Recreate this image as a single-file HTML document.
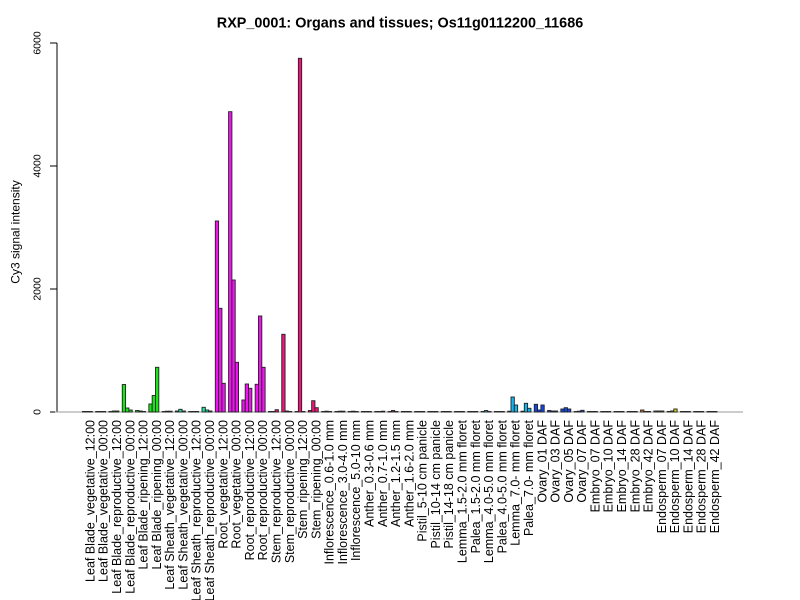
<!DOCTYPE html>
<html><head><meta charset="utf-8"><style>
html,body{margin:0;padding:0;background:#fff;}
svg{display:block;font-family:"Liberation Sans",Arial,sans-serif;}
</style></head><body>
<svg width="800" height="600" viewBox="0 0 800 600" xmlns="http://www.w3.org/2000/svg">
<rect width="800" height="600" fill="#fff"/>
<text x="400" y="27.5" text-anchor="middle" font-size="14.4" font-weight="bold">RXP_0001: Organs and tissues; Os11g0112200_11686</text>
<text transform="translate(19.5,232) rotate(-90)" text-anchor="middle" font-size="12">Cy3 signal intensity</text>
<g stroke="#000" stroke-width="1" fill="none">
<line x1="57" y1="43" x2="57" y2="412"/>
<line x1="50" y1="412" x2="57" y2="412"/>
<line x1="50" y1="289" x2="57" y2="289"/>
<line x1="50" y1="166" x2="57" y2="166"/>
<line x1="50" y1="43" x2="57" y2="43"/>
</g>
<g font-size="10.5" text-anchor="middle">
<text transform="translate(40.7,412) rotate(-90)">0</text>
<text transform="translate(40.7,289) rotate(-90)">2000</text>
<text transform="translate(40.7,166) rotate(-90)">4000</text>
<text transform="translate(40.7,43) rotate(-90)">6000</text>
</g>
<line x1="55" y1="412" x2="743" y2="412" stroke="#999" stroke-width="1"/>
<g stroke="#222" stroke-width="0.9">
<g fill="#19e619">
<g transform="translate(82.40,0)"><rect x="0" y="411.5" width="3.32" height="0.5"/><rect x="3.32" y="411.5" width="3.32" height="0.5"/><rect x="6.64" y="411.5" width="3.32" height="0.5"/></g>
<g transform="translate(95.69,0)"><rect x="0" y="411.5" width="3.32" height="0.5"/><rect x="3.32" y="411.5" width="3.32" height="0.5"/><rect x="6.64" y="411.5" width="3.32" height="0.5"/></g>
<g transform="translate(108.98,0)"><rect x="0" y="411.5" width="3.32" height="0.5"/><rect x="3.32" y="411" width="3.32" height="1"/><rect x="6.64" y="411" width="3.32" height="1"/></g>
<g transform="translate(122.27,0)"><rect x="0" y="384.5" width="3.32" height="27.5"/><rect x="3.32" y="408" width="3.32" height="4"/><rect x="6.64" y="410" width="3.32" height="2"/></g>
<g transform="translate(135.56,0)"><rect x="0" y="410.5" width="3.32" height="1.5"/><rect x="3.32" y="411" width="3.32" height="1"/><rect x="6.64" y="411.5" width="3.32" height="0.5"/></g>
<g transform="translate(148.85,0)"><rect x="0" y="404" width="3.32" height="8"/><rect x="3.32" y="395.5" width="3.32" height="16.5"/><rect x="6.64" y="367.3" width="3.32" height="44.7"/></g>
</g>
<g fill="#19e6a8">
<g transform="translate(162.14,0)"><rect x="0" y="411.5" width="3.32" height="0.5"/><rect x="3.32" y="411.2" width="3.32" height="0.8"/><rect x="6.64" y="411.2" width="3.32" height="0.8"/></g>
<g transform="translate(175.43,0)"><rect x="0" y="411" width="3.32" height="1"/><rect x="3.32" y="409.3" width="3.32" height="2.7"/><rect x="6.64" y="411" width="3.32" height="1"/></g>
<g transform="translate(188.72,0)"><rect x="0" y="411.5" width="3.32" height="0.5"/><rect x="3.32" y="411.5" width="3.32" height="0.5"/><rect x="6.64" y="411.5" width="3.32" height="0.5"/></g>
<g transform="translate(202.01,0)"><rect x="0" y="407.3" width="3.32" height="4.7"/><rect x="3.32" y="410" width="3.32" height="2"/><rect x="6.64" y="411" width="3.32" height="1"/></g>
</g>
<g fill="#f014f0">
<g transform="translate(215.30,0)"><rect x="0" y="221" width="3.32" height="191"/><rect x="3.32" y="308.3" width="3.32" height="103.7"/><rect x="6.64" y="383.3" width="3.32" height="28.7"/></g>
<g transform="translate(228.59,0)"><rect x="0" y="111.7" width="3.32" height="300.3"/><rect x="3.32" y="280" width="3.32" height="132"/><rect x="6.64" y="362.3" width="3.32" height="49.7"/></g>
<g transform="translate(241.88,0)"><rect x="0" y="400" width="3.32" height="12"/><rect x="3.32" y="384" width="3.32" height="28"/><rect x="6.64" y="388.3" width="3.32" height="23.7"/></g>
<g transform="translate(255.17,0)"><rect x="0" y="384.3" width="3.32" height="27.7"/><rect x="3.32" y="316" width="3.32" height="96"/><rect x="6.64" y="367.3" width="3.32" height="44.7"/></g>
</g>
<g fill="#f0147a">
<g transform="translate(268.46,0)"><rect x="0" y="411.5" width="3.32" height="0.5"/><rect x="3.32" y="411.5" width="3.32" height="0.5"/><rect x="6.64" y="409.7" width="3.32" height="2.3"/></g>
<g transform="translate(281.75,0)"><rect x="0" y="334.3" width="3.32" height="77.7"/><rect x="3.32" y="411" width="3.32" height="1"/><rect x="6.64" y="411.5" width="3.32" height="0.5"/></g>
<g transform="translate(295.04,0)"><rect x="0" y="411.5" width="3.32" height="0.5"/><rect x="3.32" y="58.3" width="3.32" height="353.7"/><rect x="6.64" y="411.5" width="3.32" height="0.5"/></g>
<g transform="translate(308.33,0)"><rect x="0" y="410.5" width="3.32" height="1.5"/><rect x="3.32" y="400.7" width="3.32" height="11.3"/><rect x="6.64" y="407.7" width="3.32" height="4.3"/></g>
</g>
<g fill="#3c6e6e">
<g transform="translate(321.62,0)"><rect x="0" y="411.5" width="3.32" height="0.5"/><rect x="3.32" y="411.2" width="3.32" height="0.8"/><rect x="6.64" y="411.5" width="3.32" height="0.5"/></g>
<g transform="translate(334.91,0)"><rect x="0" y="411.5" width="3.32" height="0.5"/><rect x="3.32" y="411.2" width="3.32" height="0.8"/><rect x="6.64" y="411.2" width="3.32" height="0.8"/></g>
<g transform="translate(348.20,0)"><rect x="0" y="411.5" width="3.32" height="0.5"/><rect x="3.32" y="411.2" width="3.32" height="0.8"/><rect x="6.64" y="411.5" width="3.32" height="0.5"/></g>
</g>
<g fill="#a03030">
<g transform="translate(361.49,0)"><rect x="0" y="411.5" width="3.32" height="0.5"/><rect x="3.32" y="411.5" width="3.32" height="0.5"/><rect x="6.64" y="411.5" width="3.32" height="0.5"/></g>
<g transform="translate(374.78,0)"><rect x="0" y="411.5" width="3.32" height="0.5"/><rect x="3.32" y="411.5" width="3.32" height="0.5"/><rect x="6.64" y="411.2" width="3.32" height="0.8"/></g>
<g transform="translate(388.07,0)"><rect x="0" y="411.5" width="3.32" height="0.5"/><rect x="3.32" y="410.5" width="3.32" height="1.5"/><rect x="6.64" y="411.5" width="3.32" height="0.5"/></g>
<g transform="translate(401.36,0)"><rect x="0" y="411.5" width="3.32" height="0.5"/><rect x="3.32" y="411.5" width="3.32" height="0.5"/><rect x="6.64" y="411.5" width="3.32" height="0.5"/></g>
</g>
<g fill="#606060">
<g transform="translate(414.65,0)"><rect x="0" y="411.5" width="3.32" height="0.5"/><rect x="3.32" y="411.5" width="3.32" height="0.5"/><rect x="6.64" y="411.5" width="3.32" height="0.5"/></g>
<g transform="translate(427.94,0)"><rect x="0" y="411.5" width="3.32" height="0.5"/><rect x="3.32" y="411.5" width="3.32" height="0.5"/><rect x="6.64" y="411.5" width="3.32" height="0.5"/></g>
<g transform="translate(441.23,0)"><rect x="0" y="411.5" width="3.32" height="0.5"/><rect x="3.32" y="411.5" width="3.32" height="0.5"/><rect x="6.64" y="411.5" width="3.32" height="0.5"/></g>
</g>
<g fill="#14b4f0">
<g transform="translate(454.52,0)"><rect x="0" y="411.5" width="3.32" height="0.5"/><rect x="3.32" y="411.5" width="3.32" height="0.5"/><rect x="6.64" y="411.5" width="3.32" height="0.5"/></g>
<g transform="translate(467.81,0)"><rect x="0" y="411.5" width="3.32" height="0.5"/><rect x="3.32" y="411.5" width="3.32" height="0.5"/><rect x="6.64" y="411.5" width="3.32" height="0.5"/></g>
<g transform="translate(481.10,0)"><rect x="0" y="411.5" width="3.32" height="0.5"/><rect x="3.32" y="410.5" width="3.32" height="1.5"/><rect x="6.64" y="411.5" width="3.32" height="0.5"/></g>
<g transform="translate(494.39,0)"><rect x="0" y="411.5" width="3.32" height="0.5"/><rect x="3.32" y="411.5" width="3.32" height="0.5"/><rect x="6.64" y="411.5" width="3.32" height="0.5"/></g>
<g transform="translate(507.68,0)"><rect x="0" y="411.2" width="3.32" height="0.8"/><rect x="3.32" y="397" width="3.32" height="15"/><rect x="6.64" y="405" width="3.32" height="7"/></g>
<g transform="translate(520.97,0)"><rect x="0" y="411.2" width="3.32" height="0.8"/><rect x="3.32" y="403.3" width="3.32" height="8.7"/><rect x="6.64" y="408.3" width="3.32" height="3.7"/></g>
</g>
<g fill="#1446e6">
<g transform="translate(534.26,0)"><rect x="0" y="404.3" width="3.32" height="7.7"/><rect x="3.32" y="410" width="3.32" height="2"/><rect x="6.64" y="405" width="3.32" height="7"/></g>
<g transform="translate(547.55,0)"><rect x="0" y="410.5" width="3.32" height="1.5"/><rect x="3.32" y="411" width="3.32" height="1"/><rect x="6.64" y="411" width="3.32" height="1"/></g>
<g transform="translate(560.84,0)"><rect x="0" y="409" width="3.32" height="3"/><rect x="3.32" y="407.7" width="3.32" height="4.3"/><rect x="6.64" y="409" width="3.32" height="3"/></g>
<g transform="translate(574.13,0)"><rect x="0" y="411.5" width="3.32" height="0.5"/><rect x="3.32" y="411.2" width="3.32" height="0.8"/><rect x="6.64" y="410.3" width="3.32" height="1.7"/></g>
</g>
<g fill="#d2782a">
<g transform="translate(587.42,0)"><rect x="0" y="411.5" width="3.32" height="0.5"/><rect x="3.32" y="411.5" width="3.32" height="0.5"/><rect x="6.64" y="411.5" width="3.32" height="0.5"/></g>
<g transform="translate(600.71,0)"><rect x="0" y="411.5" width="3.32" height="0.5"/><rect x="3.32" y="411.5" width="3.32" height="0.5"/><rect x="6.64" y="411.5" width="3.32" height="0.5"/></g>
<g transform="translate(614.00,0)"><rect x="0" y="411.5" width="3.32" height="0.5"/><rect x="3.32" y="411.5" width="3.32" height="0.5"/><rect x="6.64" y="411.5" width="3.32" height="0.5"/></g>
<g transform="translate(627.29,0)"><rect x="0" y="411.5" width="3.32" height="0.5"/><rect x="3.32" y="411.5" width="3.32" height="0.5"/><rect x="6.64" y="411.5" width="3.32" height="0.5"/></g>
<g transform="translate(640.58,0)"><rect x="0" y="410" width="3.32" height="2"/><rect x="3.32" y="411.5" width="3.32" height="0.5"/><rect x="6.64" y="411.5" width="3.32" height="0.5"/></g>
</g>
<g fill="#d2d214">
<g transform="translate(653.87,0)"><rect x="0" y="411" width="3.32" height="1"/><rect x="3.32" y="411" width="3.32" height="1"/><rect x="6.64" y="411" width="3.32" height="1"/></g>
<g transform="translate(667.16,0)"><rect x="0" y="411.5" width="3.32" height="0.5"/><rect x="3.32" y="411" width="3.32" height="1"/><rect x="6.64" y="409" width="3.32" height="3"/></g>
<g transform="translate(680.45,0)"><rect x="0" y="411.5" width="3.32" height="0.5"/><rect x="3.32" y="411.5" width="3.32" height="0.5"/><rect x="6.64" y="411.5" width="3.32" height="0.5"/></g>
<g transform="translate(693.74,0)"><rect x="0" y="411.5" width="3.32" height="0.5"/><rect x="3.32" y="411.5" width="3.32" height="0.5"/><rect x="6.64" y="411.5" width="3.32" height="0.5"/></g>
<g transform="translate(707.03,0)"><rect x="0" y="411.5" width="3.32" height="0.5"/><rect x="3.32" y="411.5" width="3.32" height="0.5"/><rect x="6.64" y="411.5" width="3.32" height="0.5"/></g>
</g>
</g>
<g font-size="12.5" text-anchor="end">
<text transform="translate(94.4,420) rotate(-90)">Leaf Blade_vegetative_12:00</text>
<text transform="translate(107.69,420) rotate(-90)">Leaf Blade_vegetative_00:00</text>
<text transform="translate(120.98,420) rotate(-90)">Leaf Blade_reproductive_12:00</text>
<text transform="translate(134.27,420) rotate(-90)">Leaf Blade_reproductive_00:00</text>
<text transform="translate(147.56,420) rotate(-90)">Leaf Blade_ripening_12:00</text>
<text transform="translate(160.85,420) rotate(-90)">Leaf Blade_ripening_00:00</text>
<text transform="translate(174.14,420) rotate(-90)">Leaf Sheath_vegetative_12:00</text>
<text transform="translate(187.43,420) rotate(-90)">Leaf Sheath_vegetative_00:00</text>
<text transform="translate(200.72,420) rotate(-90)">Leaf Sheath_reproductive_12:00</text>
<text transform="translate(214.01,420) rotate(-90)">Leaf Sheath_reproductive_00:00</text>
<text transform="translate(227.30,420) rotate(-90)">Root_vegetative_12:00</text>
<text transform="translate(240.59,420) rotate(-90)">Root_vegetative_00:00</text>
<text transform="translate(253.88,420) rotate(-90)">Root_reproductive_12:00</text>
<text transform="translate(267.17,420) rotate(-90)">Root_reproductive_00:00</text>
<text transform="translate(280.46,420) rotate(-90)">Stem_reproductive_12:00</text>
<text transform="translate(293.75,420) rotate(-90)">Stem_reproductive_00:00</text>
<text transform="translate(307.04,420) rotate(-90)">Stem_ripening_12:00</text>
<text transform="translate(320.33,420) rotate(-90)">Stem_ripening_00:00</text>
<text transform="translate(333.62,420) rotate(-90)">Inflorescence_0.6-1.0 mm</text>
<text transform="translate(346.91,420) rotate(-90)">Inflorescence_3.0-4.0 mm</text>
<text transform="translate(360.20,420) rotate(-90)">Inflorescence_5.0-10 mm</text>
<text transform="translate(373.49,420) rotate(-90)">Anther_0.3-0.6 mm</text>
<text transform="translate(386.78,420) rotate(-90)">Anther_0.7-1.0 mm</text>
<text transform="translate(400.07,420) rotate(-90)">Anther_1.2-1.5 mm</text>
<text transform="translate(413.36,420) rotate(-90)">Anther_1.6-2.0 mm</text>
<text transform="translate(426.65,420) rotate(-90)">Pistil_5-10 cm panicle</text>
<text transform="translate(439.94,420) rotate(-90)">Pistil_10-14 cm panicle</text>
<text transform="translate(453.23,420) rotate(-90)">Pistil_14-18 cm panicle</text>
<text transform="translate(466.52,420) rotate(-90)">Lemma_1.5-2.0 mm floret</text>
<text transform="translate(479.81,420) rotate(-90)">Palea_1.5-2.0 mm floret</text>
<text transform="translate(493.10,420) rotate(-90)">Lemma_4.0-5.0 mm floret</text>
<text transform="translate(506.39,420) rotate(-90)">Palea_4.0-5.0 mm floret</text>
<text transform="translate(519.68,420) rotate(-90)">Lemma_7.0- mm floret</text>
<text transform="translate(532.97,420) rotate(-90)">Palea_7.0- mm floret</text>
<text transform="translate(546.26,420) rotate(-90)">Ovary_01 DAF</text>
<text transform="translate(559.55,420) rotate(-90)">Ovary_03 DAF</text>
<text transform="translate(572.84,420) rotate(-90)">Ovary_05 DAF</text>
<text transform="translate(586.13,420) rotate(-90)">Ovary_07 DAF</text>
<text transform="translate(599.42,420) rotate(-90)">Embryo_07 DAF</text>
<text transform="translate(612.71,420) rotate(-90)">Embryo_10 DAF</text>
<text transform="translate(626.00,420) rotate(-90)">Embryo_14 DAF</text>
<text transform="translate(639.29,420) rotate(-90)">Embryo_28 DAF</text>
<text transform="translate(652.58,420) rotate(-90)">Embryo_42 DAF</text>
<text transform="translate(665.87,420) rotate(-90)">Endosperm_07 DAF</text>
<text transform="translate(679.16,420) rotate(-90)">Endosperm_10 DAF</text>
<text transform="translate(692.45,420) rotate(-90)">Endosperm_14 DAF</text>
<text transform="translate(705.74,420) rotate(-90)">Endosperm_28 DAF</text>
<text transform="translate(719.03,420) rotate(-90)">Endosperm_42 DAF</text>
</g>
</svg>
</body></html>
